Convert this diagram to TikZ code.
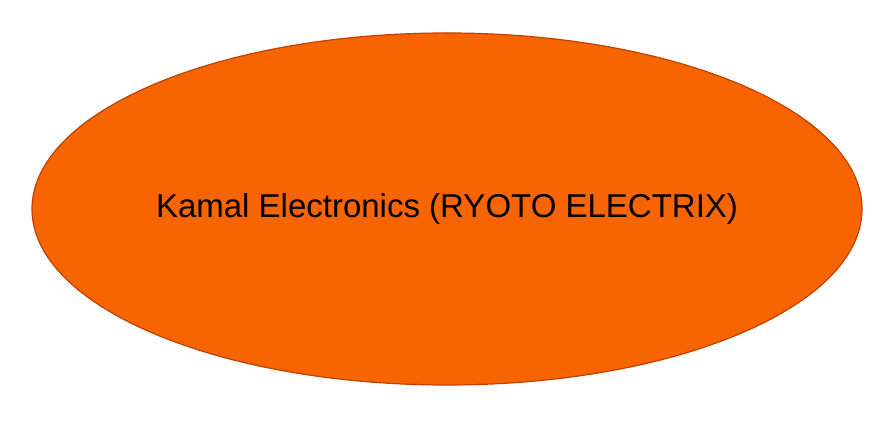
\documentclass[tikz,border=0pt]{standalone}
\usepackage{fontspec}
\setmainfont{Liberation Sans}
\usetikzlibrary{shapes.geometric}
\definecolor{fillor}{HTML}{F76400}
\definecolor{edgeor}{HTML}{C04000}
\tikzset{blob/.style={ellipse,draw=edgeor,line width=1.2pt,fill=fillor,minimum width=830pt,minimum height=352pt,inner sep=0pt,font=\fontsize{33}{40}\selectfont}}
\begin{document}
\begin{tikzpicture}[x=1pt,y=1pt]
\useasboundingbox (0,0) rectangle (896,422);
\node[blob] (e) at (447,213) {Kamal Electronics (RYOTO ELECTRIX)};
\end{tikzpicture}
\end{document}
